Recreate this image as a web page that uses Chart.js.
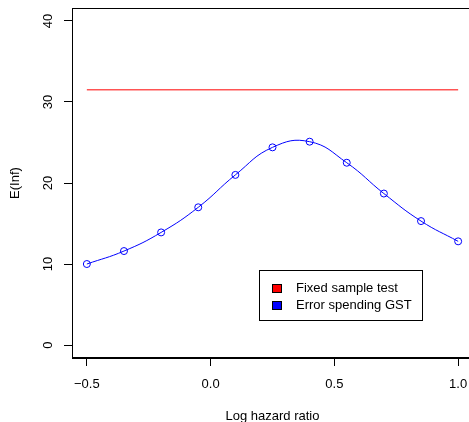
<!DOCTYPE html>
<html>
<head>
<meta charset="utf-8">
<script src="https://cdn.jsdelivr.net/npm/chart.js@4.4.0/dist/chart.umd.min.js"></script>
<style>
  html, body { margin: 0; padding: 0; overflow: hidden; background: #fff; }
  #wrap { width: 480px; height: 422px; }
</style>
</head>
<body>
<div id="wrap"><canvas id="einfChart" width="480" height="422"></canvas></div>
<script>
// valeurs
const logHR = [-0.5, -0.35, -0.2, -0.05, 0.1, 0.25, 0.4, 0.55, 0.7, 0.85, 1.0];
const gstEInf = [10.0, 11.6, 13.9, 17.0, 21.0, 24.4, 25.1, 22.5, 18.7, 15.3, 12.8];
const fixedX = [-0.5, 1.0];
const fixedEInf = [31.5, 31.5];
const xTicks = [-0.5, 0.0, 0.5, 1.0];
const xTickLabels = ['\u22120.5', '0.0', '0.5', '1.0'];
const yTicks = [0, 10, 20, 30, 40];
const yTickLabels = ['0', '10', '20', '30', '40'];
const legendLabels = ['Fixed sample test', 'Error spending GST'];
const legendColors = ['#ff0000', '#0000ff'];

const FONT = '"Liberation Sans", Arial, Helvetica, sans-serif';
Chart.defaults.font.family = FONT;
Chart.defaults.font.size = 13;
Chart.defaults.color = '#000';

// cadre, étiquettes Y tournées et légende dans le graphique
const extras = {
    id: 'extras',
    afterDraw(chart) {
        const ctx = chart.ctx;
        const a = chart.chartArea;
        ctx.save();
        ctx.strokeStyle = '#000';
        ctx.lineWidth = 1;
        ctx.strokeRect(Math.round(a.left) + 0.5, Math.round(a.top) + 0.5,
            Math.round(a.right - a.left), Math.round(a.bottom - a.top) - 1);

        const y = chart.scales.y;
        ctx.fillStyle = '#000';
        ctx.font = '13px ' + FONT;
        ctx.textAlign = 'center';
        ctx.textBaseline = 'alphabetic';
        yTicks.forEach((v, i) => {
            ctx.save();
            ctx.translate(52, y.getPixelForValue(v));
            ctx.rotate(-Math.PI / 2);
            ctx.fillText(yTickLabels[i], 0, 0);
            ctx.restore();
        });

        // légende
        ctx.strokeRect(259.5, 270.5, 163, 50);
        ctx.textAlign = 'left';
        legendLabels.forEach((lab, i) => {
            const base = 292 + i * 17;
            ctx.fillStyle = legendColors[i];
            ctx.fillRect(272.5, base - 7.5, 9, 8);
            ctx.strokeRect(272.5, base - 7.5, 9, 8);
            ctx.fillStyle = '#000';
            ctx.fillText(lab, 296, base);
        });
        ctx.restore();
    }
};

new Chart(document.getElementById('einfChart'), {
    type: 'line',
    data: {
        datasets: [
            {
                label: legendLabels[0],
                data: fixedX.map((x, i) => ({ x: x, y: fixedEInf[i] })),
                borderColor: legendColors[0],
                borderWidth: 1,
                pointRadius: 0,
                tension: 0
            },
            {
                label: legendLabels[1],
                data: logHR.map((x, i) => ({ x: x, y: gstEInf[i] })),
                borderColor: legendColors[1],
                borderWidth: 1,
                tension: 0.45,
                pointRadius: 3.5,
                pointBorderWidth: 1,
                pointBorderColor: legendColors[1],
                pointBackgroundColor: 'rgba(0,0,0,0)'
            }
        ]
    },
    options: {
        responsive: false,
        animation: false,
        layout: { padding: { left: 0, top: 8, right: 7, bottom: 0 } },
        plugins: {
            legend: { display: false },
            tooltip: { enabled: false }
        },
        scales: {
            x: {
                type: 'linear',
                min: -0.56,
                max: 1.06,
                afterBuildTicks: s => { s.ticks = xTicks.map(v => ({ value: v })); },
                afterFit: s => { s.height = 64; },
                grid: { drawOnChartArea: false, drawTicks: true, tickLength: 8, color: '#000' },
                border: { display: true, color: '#000', width: 1 },
                ticks: {
                    color: '#000',
                    padding: 11,
                    maxRotation: 0,
                    autoSkip: false,
                    callback: v => xTickLabels[xTicks.indexOf(v)]
                },
                title: { display: true, text: 'Log hazard ratio', color: '#000', padding: { top: -2, bottom: -2 } }
            },
            y: {
                type: 'linear',
                min: -1.6,
                max: 41.6,
                afterBuildTicks: s => { s.ticks = yTicks.map(v => ({ value: v })); },
                afterFit: s => { s.width = 72; },
                grid: { drawOnChartArea: false, drawTicks: true, tickLength: 8, color: '#000' },
                border: { display: true, color: '#000', width: 1 },
                ticks: { display: false },
                title: { display: true, text: 'E(Inf)', color: '#000', padding: { top: 8, bottom: 0 } }
            }
        }
    },
    plugins: [extras]
});
</script>
</body>
</html>
